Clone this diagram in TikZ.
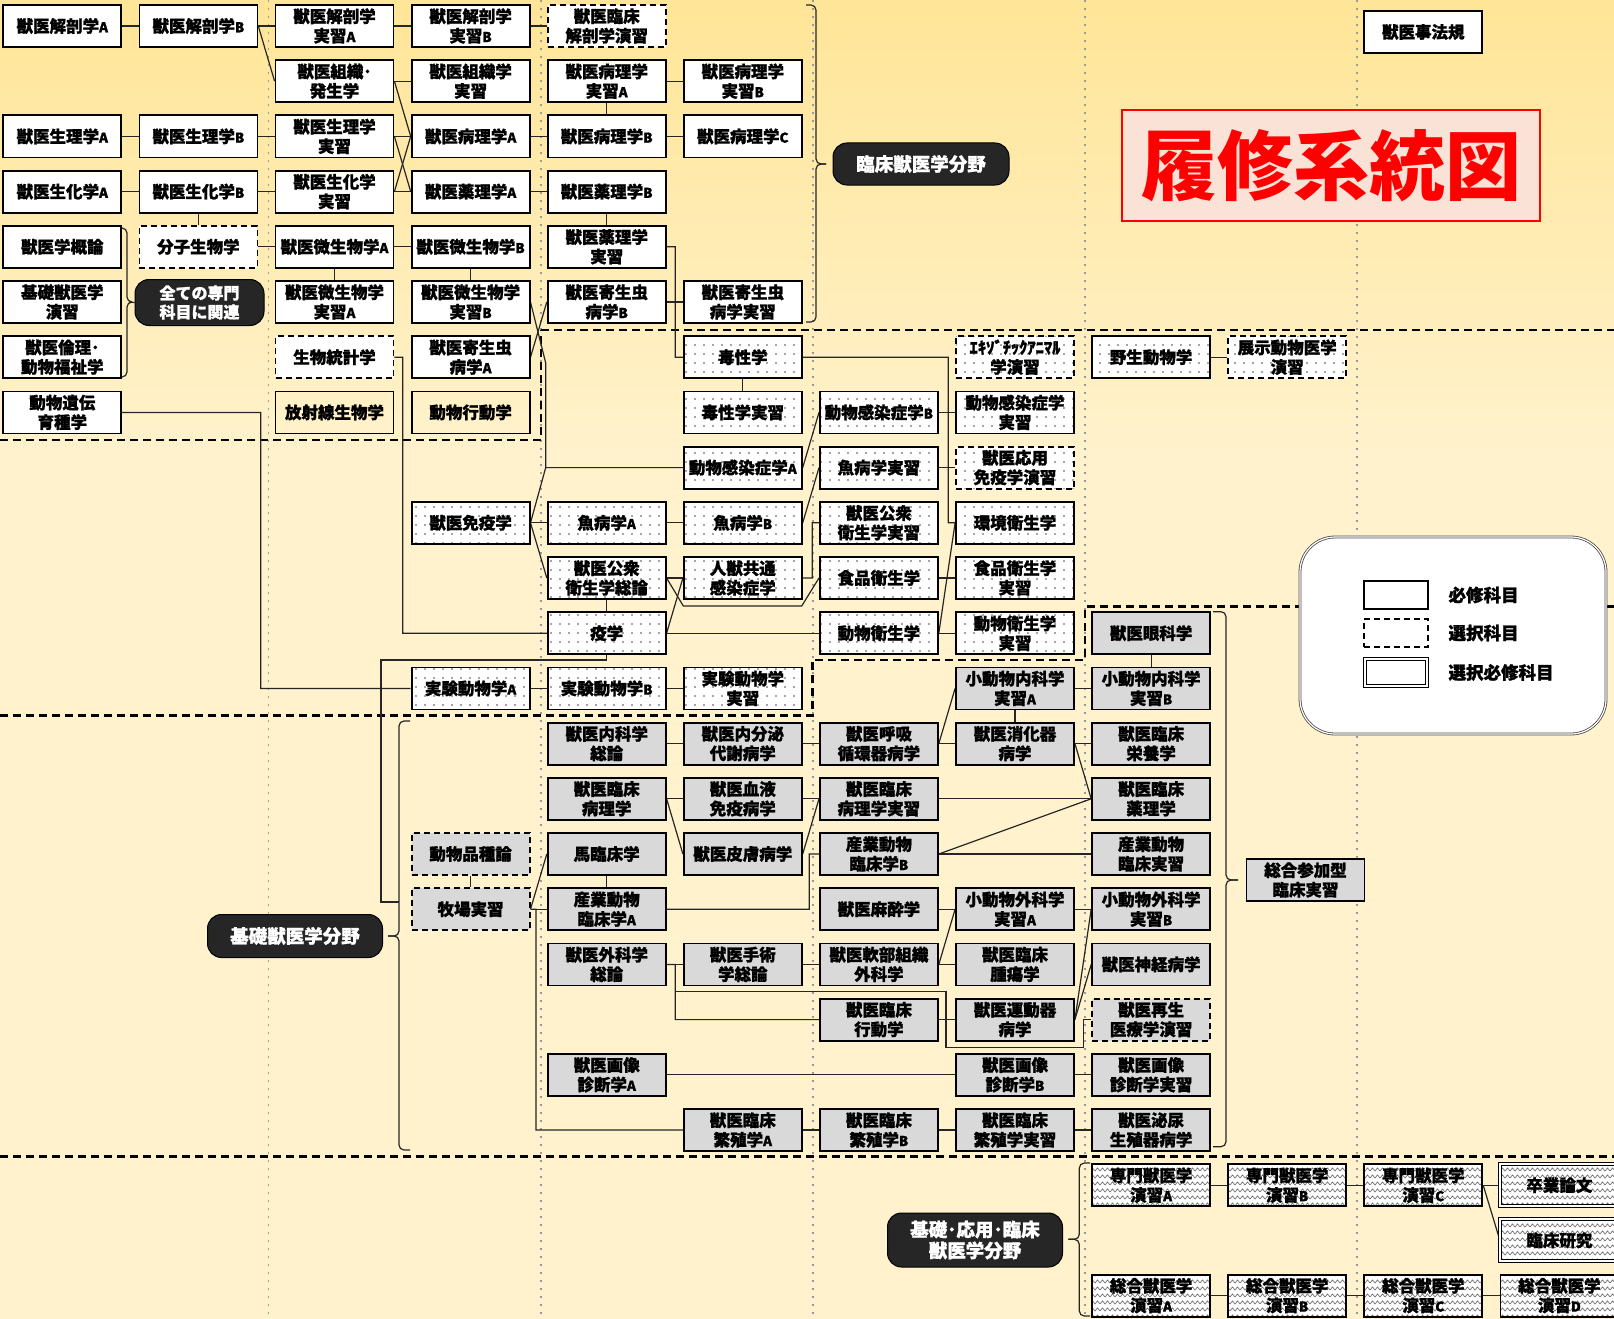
\documentclass[tikz,border=0pt]{standalone}
\usepackage{fontspec}
\setmainfont{Noto Sans CJK JP}[BoldFeatures={FakeBold=1.2}]
\newfontfamily\titlefont{Noto Sans CJK JP}
\usetikzlibrary{patterns}
\definecolor{bgtop}{RGB}{255,229,151}
\definecolor{bgbot}{RGB}{255,242,204}
\definecolor{pillc}{RGB}{38,38,38}
\definecolor{grayfill}{RGB}{217,217,217}
\definecolor{titlefill}{RGB}{250,227,214}
\definecolor{titlered}{RGB}{255,0,0}
\pgfdeclarepatternformonly{mydots}{\pgfqpoint{-1pt}{-1pt}}{\pgfqpoint{10pt}{10pt}}{\pgfqpoint{9pt}{9pt}}{\pgfpathcircle{\pgfqpoint{2pt}{2pt}}{0.95pt}\pgfusepath{fill}}
\pgfdeclarepatternformonly{myzig}{\pgfqpoint{-1pt}{-1pt}}{\pgfqpoint{11pt}{8pt}}{\pgfqpoint{10pt}{7pt}}{\pgfsetlinewidth{0.7pt}\pgfpathmoveto{\pgfqpoint{0pt}{1pt}}\pgfpathlineto{\pgfqpoint{2.5pt}{4pt}}\pgfpathlineto{\pgfqpoint{5pt}{1pt}}\pgfpathlineto{\pgfqpoint{7.5pt}{4pt}}\pgfpathlineto{\pgfqpoint{10pt}{1pt}}\pgfusepath{stroke}}
\pgfdeclarelayer{bg}
\pgfdeclarelayer{conn}
\pgfsetlayers{bg,conn,main}
\newcommand\sfx[1]{{\fontsize{13.5}{13.5}\selectfont #1}}
\tikzset{
  g/.style 2 args={at={({62.3+136.1*(#1-1)},{26+55.2*(#2-1)})}},
  base/.style={rectangle, minimum width=118pt, minimum height=42pt, inner sep=0pt, align=center,
    font=\bfseries\fontsize{16.5}{19.5}\selectfont, line width=1.8pt, draw=black},
  wb/.style={base, fill=white},
  tb/.style={base},
  db/.style={base, fill=white, dash pattern=on 6pt off 4pt},
  pb/.style={base, preaction={fill=white}, pattern=mydots, pattern color=black!70},
  pdb/.style={pb, dash pattern=on 6pt off 4pt},
  gb/.style={base, fill=grayfill},
  gdb/.style={gb, dash pattern=on 6pt off 4pt},
  zb/.style={base, preaction={fill=white}, pattern=myzig, pattern color=black!55},
  zdb/.style={zb, line width=1pt, double=white, double distance=2pt},
  pill/.style={rectangle, rounded corners=14pt, fill=pillc, draw=black, line width=1pt, text=white,
    align=center, inner sep=0pt, font=\bfseries\fontsize{18.5}{21}\selectfont},
  cn/.style={line width=1.2pt, draw=black!85},
  brk/.style={line width=1.2pt, draw=black!85, rounded corners=5pt},
  regl/.style={line width=2.6pt, draw=black, dash pattern=on 8pt off 5pt},
  dotl/.style={line width=1.6pt, draw=black!40, dash pattern=on 1.6pt off 6.4pt},
  legt/.style={anchor=west, font=\bfseries\fontsize{17.5}{17.5}\selectfont},
}
\begin{document}
\begin{tikzpicture}[x=1pt,y=-1pt]
\useasboundingbox (0,0) rectangle (1614,1319);
\begin{pgfonlayer}{bg}
  \fill[top color=bgtop,bottom color=bgbot] (0,0) rectangle (1614,450);
  \fill[bgbot] (0,449) rectangle (1614,1319);
  \foreach \x in {268.3,540.7,812.7,1085,1357} \draw[dotl] (\x,0) -- (\x,1319);
  \draw[regl] (541,330) -- (1614,330);
  \draw[regl] (0,440) -- (541,440) -- (541,330);
  \draw[regl] (0,715.7) -- (812.3,715.7) -- (812.3,660) -- (1085,660) -- (1085,606.7) -- (1614,606.7);
  \draw[regl] (0,1156.7) -- (1614,1156.7);
\end{pgfonlayer}

% title
\node[draw=titlered, line width=1.5pt, fill=titlefill, minimum width=418pt, minimum height=111pt, inner sep=0pt,
  text=titlered, font=\titlefont\bfseries\fontsize{76}{76}\selectfont] (title) at (1331,165.5) {履修系統図};

% row 1
\node[wb,g={1}{1}] (kaiA) {獣医解剖学\sfx{A}};
\node[wb,g={2}{1}] (kaiB) {獣医解剖学\sfx{B}};
\node[wb,g={3}{1}] (kaijA) {獣医解剖学\\実習\sfx{A}};
\node[wb,g={4}{1}] (kaijB) {獣医解剖学\\実習\sfx{B}};
\node[db,g={5}{1}] (rkai) {獣医臨床\\解剖学演習};
\node[wb,at={(1423.3,32)}] (hoki) {獣医事法規};
% row 2
\node[wb,g={3}{2}] (soshiki) {獣医組織･\\発生学};
\node[wb,g={4}{2}] (soshikij) {獣医組織学\\実習};
\node[wb,g={5}{2}] (byojA) {獣医病理学\\実習\sfx{A}};
\node[wb,g={6}{2}] (byojB) {獣医病理学\\実習\sfx{B}};
% row 3
\node[wb,g={1}{3}] (seiA) {獣医生理学\sfx{A}};
\node[wb,g={2}{3}] (seiB) {獣医生理学\sfx{B}};
\node[wb,g={3}{3}] (seij) {獣医生理学\\実習};
\node[wb,g={4}{3}] (byoA) {獣医病理学\sfx{A}};
\node[wb,g={5}{3}] (byoB) {獣医病理学\sfx{B}};
\node[wb,g={6}{3}] (byoC) {獣医病理学\sfx{C}};
% row 4
\node[wb,g={1}{4}] (kaA) {獣医生化学\sfx{A}};
\node[wb,g={2}{4}] (kaB) {獣医生化学\sfx{B}};
\node[wb,g={3}{4}] (kaj) {獣医生化学\\実習};
\node[wb,g={4}{4}] (yakuA) {獣医薬理学\sfx{A}};
\node[wb,g={5}{4}] (yakuB) {獣医薬理学\sfx{B}};
% row 5
\node[wb,g={1}{5}] (gairon) {獣医学概論};
\node[db,g={2}{5}] (bunshi) {分子生物学};
\node[wb,g={3}{5}] (biA) {獣医微生物学\sfx{A}};
\node[wb,g={4}{5}] (biB) {獣医微生物学\sfx{B}};
\node[wb,g={5}{5}] (yakuj) {獣医薬理学\\実習};
% row 6
\node[wb,g={1}{6}] (kiso) {基礎獣医学\\演習};
\node[pill, minimum width=129pt, minimum height=46pt, font=\bfseries\fontsize{16}{19}\selectfont] (zen) at (199.5,302.5) {全ての専門\\科目に関連};
\node[wb,g={3}{6}] (bijA) {獣医微生物学\\実習\sfx{A}};
\node[wb,g={4}{6}] (bijB) {獣医微生物学\\実習\sfx{B}};
\node[wb,g={5}{6}] (kiseiB) {獣医寄生虫\\病学\sfx{B}};
\node[wb,g={6}{6}] (kiseij) {獣医寄生虫\\病学実習};
% row 7
\node[wb,g={1}{7}] (rinri) {獣医倫理･\\動物福祉学};
\node[db,g={3}{7}] (tokei) {生物統計学};
\node[wb,g={4}{7}] (kiseiA) {獣医寄生虫\\病学\sfx{A}};
\node[pb,g={6}{7}] (doku) {毒性学};
\node[pdb,g={8}{7}] (exo) {ｴｷｿﾞﾁｯｸｱﾆﾏﾙ\\学演習};
\node[pb,g={9}{7}] (yasei) {野生動物学};
\node[pdb,g={10}{7}] (tenji) {展示動物医学\\演習};
% row 8
\node[wb,g={1}{8}] (iden) {動物遺伝\\育種学};
\node[tb,g={3}{8}] (hosha) {放射線生物学};
\node[tb,g={4}{8}] (kodo) {動物行動学};
\node[pb,g={6}{8}] (dokuj) {毒性学実習};
\node[pb,g={7}{8}] (kanB) {動物感染症学\sfx{B}};
\node[pb,g={8}{8}] (kanj) {動物感染症学\\実習};
% row 9
\node[pb,g={6}{9}] (kanA) {動物感染症学\sfx{A}};
\node[pb,g={7}{9}] (gyoj) {魚病学実習};
\node[pdb,g={8}{9}] (oyo) {獣医応用\\免疫学演習};
% row 10
\node[pb,g={4}{10}] (men) {獣医免疫学};
\node[pb,g={5}{10}] (gyoA) {魚病学\sfx{A}};
\node[pb,g={6}{10}] (gyoB) {魚病学\sfx{B}};
\node[pb,g={7}{10}] (koshuj) {獣医公衆\\衛生学実習};
\node[pb,g={8}{10}] (kankyo) {環境衛生学};
% row 11
\node[pb,g={5}{11}] (koshu) {獣医公衆\\衛生学総論};
\node[pb,g={6}{11}] (jinju) {人獣共通\\感染症学};
\node[pb,g={7}{11}] (shoku) {食品衛生学};
\node[pb,g={8}{11}] (shokuj) {食品衛生学\\実習};
% row 12
\node[pb,g={5}{12}] (eki) {疫学};
\node[pb,g={7}{12}] (dobutsu) {動物衛生学};
\node[pb,g={8}{12}] (dobutsuj) {動物衛生学\\実習};
\node[gb,g={9}{12}] (ganka) {獣医眼科学};
% row 13
\node[pb,g={4}{13}] (jikA) {実験動物学\sfx{A}};
\node[pb,g={5}{13}] (jikB) {実験動物学\sfx{B}};
\node[pb,g={6}{13}] (jikj) {実験動物学\\実習};
\node[gb,g={8}{13}] (shonaiA) {小動物内科学\\実習\sfx{A}};
\node[gb,g={9}{13}] (shonaiB) {小動物内科学\\実習\sfx{B}};
% row 14
\node[gb,g={5}{14}] (naika) {獣医内科学\\総論};
\node[gb,g={6}{14}] (naibun) {獣医内分泌\\代謝病学};
\node[gb,g={7}{14}] (kokyu) {獣医呼吸\\循環器病学};
\node[gb,g={8}{14}] (shoka) {獣医消化器\\病学};
\node[gb,g={9}{14}] (eiyo) {獣医臨床\\栄養学};
% row 15
\node[gb,g={5}{15}] (rbyo) {獣医臨床\\病理学};
\node[gb,g={6}{15}] (ketsu) {獣医血液\\免疫病学};
\node[gb,g={7}{15}] (rbyoj) {獣医臨床\\病理学実習};
\node[gb,g={9}{15}] (ryaku) {獣医臨床\\薬理学};
% row 16
\node[gdb,g={4}{16}] (hinshu) {動物品種論};
\node[gb,g={5}{16}] (uma) {馬臨床学};
\node[gb,g={6}{16}] (hifu) {獣医皮膚病学};
\node[gb,g={7}{16}] (sanB) {産業動物\\臨床学\sfx{B}};
\node[gb,g={9}{16}] (sanj) {産業動物\\臨床実習};
% row 17
\node[gdb,g={4}{17}] (bokujo) {牧場実習};
\node[gb,g={5}{17}] (sanA) {産業動物\\臨床学\sfx{A}};
\node[gb,g={7}{17}] (masui) {獣医麻酔学};
\node[gb,g={8}{17}] (shogeA) {小動物外科学\\実習\sfx{A}};
\node[gb,g={9}{17}] (shogeB) {小動物外科学\\実習\sfx{B}};
% row 18
\node[gb,g={5}{18}] (geka) {獣医外科学\\総論};
\node[gb,g={6}{18}] (shujutsu) {獣医手術\\学総論};
\node[gb,g={7}{18}] (nanbu) {獣医軟部組織\\外科学};
\node[gb,g={8}{18}] (shuyo) {獣医臨床\\腫瘍学};
\node[gb,g={9}{18}] (shinkei) {獣医神経病学};
% row 19
\node[gb,g={7}{19}] (rkodo) {獣医臨床\\行動学};
\node[gb,g={8}{19}] (undo) {獣医運動器\\病学};
\node[gdb,g={9}{19}] (saisei) {獣医再生\\医療学演習};
% row 20
\node[gb,g={5}{20}] (gazoA) {獣医画像\\診断学\sfx{A}};
\node[gb,g={8}{20}] (gazoB) {獣医画像\\診断学\sfx{B}};
\node[gb,g={9}{20}] (gazoj) {獣医画像\\診断学実習};
% row 21
\node[gb,g={6}{21}] (hanA) {獣医臨床\\繁殖学\sfx{A}};
\node[gb,g={7}{21}] (hanB) {獣医臨床\\繁殖学\sfx{B}};
\node[gb,g={8}{21}] (hanj) {獣医臨床\\繁殖学実習};
\node[gb,g={9}{21}] (hinyo) {獣医泌尿\\生殖器病学};
\node[gb,at={(1305.5,880)}] (sogo) {総合参加型\\臨床実習};
% rows 22-24
\node[zb,g={9}{22}] (senA) {専門獣医学\\演習\sfx{A}};
\node[zb,g={10}{22}] (senB) {専門獣医学\\演習\sfx{B}};
\node[zb,g={11}{22}] (senC) {専門獣医学\\演習\sfx{C}};
\node[zdb,g={12}{22}] (sotsu) {卒業論文};
\node[zdb,g={12}{23}] (rinken) {臨床研究};
\node[zb,g={9}{24}] (sogoA) {総合獣医学\\演習\sfx{A}};
\node[zb,g={10}{24}] (sogoB) {総合獣医学\\演習\sfx{B}};
\node[zb,g={11}{24}] (sogoC) {総合獣医学\\演習\sfx{C}};
\node[zb,g={12}{24}] (sogoD) {総合獣医学\\演習\sfx{D}};

% pills
\node[pill, minimum width=176pt, minimum height=42pt] (rinshop) at (921,164) {臨床獣医学分野};
\node[pill, minimum width=175pt, minimum height=43pt] (kisop) at (295,936) {基礎獣医学分野};
\node[pill, minimum width=175pt, minimum height=54pt] (allp) at (975,1240) {基礎･応用･臨床\\獣医学分野};

\begin{pgfonlayer}{conn}
% top area
\draw[cn] (kaiA) -- (kaiB);
\draw[cn] (kaiB) -- (kaijA);
\draw[cn] (kaiB.east) -- (soshiki.west);
\draw[cn] (kaijA) -- (kaijB);
\draw[cn] (kaijB) -- (rkai);
\draw[cn] (soshiki) -- (soshikij);
\draw[cn] (soshiki.east) -- (byoA.west);
\draw[cn] (seiA) -- (seiB);
\draw[cn] (seiB) -- (seij);
\draw[cn] (seij) -- (byoA);
\draw[cn] (seij.east) -- (yakuA.west);
\draw[cn] (kaA) -- (kaB);
\draw[cn] (kaB) -- (kaj);
\draw[cn] (kaj) -- (yakuA);
\draw[cn] (kaj.east) -- (byoA.west);
\draw[cn] (kaB) -- (bunshi);
\draw[cn] (bunshi) -- (biA);
\draw[cn] (biA) -- (biB);
\draw[cn] (biA) -- (bijA);
\draw[cn] (byoA) -- (byoB);
\draw[cn] (byoB) -- (byoC);
\draw[cn] (byojA) -- (byojB);
\draw[cn] (byojA) -- (byoB);
\draw[cn] (yakuA) -- (yakuB);
\draw[cn] (yakuB) -- (yakuj);
\draw[cn] (biB) -- (bijB);
\draw[cn] (kiseiB) -- (kiseij);
\draw[cn] (kiseiA.east) -- (kiseiB.west);
\draw[cn] (yakuj.east) -- (675.3,246.8) |- (doku.west);
\draw[cn] (doku) -- (dokuj);
\draw[cn] (doku.east) -- (948.3,357.2) |- (kankyo.west);
\draw[cn] (kanB) -- (kanj);
\draw[cn] (kanA.east) -- (kanB.west);
\draw[cn] (gyoB.east) -- (gyoj.west);
\draw[cn] (gyoj) -- (oyo);
\draw[cn] (men) -- (gyoA);
\draw[cn] (gyoA) -- (gyoB);
\draw[cn] (men.east) -- (545.7,467.6) -- (kanA.west);
\draw[cn] (bijB.east) -- (545.7,363) -- (545.7,467.6);
\draw[cn] (men.east) -- (koshu.west);
\draw[cn] (koshu) -- (jinju);
\draw[cn] (koshu) -- (eki);
\draw[cn] (koshu.east) -- (683.3,606) -- (801.7,606) -- (shoku.west);
\draw[cn] (jinju.east) -- (812.3,578) |- (koshuj.west);
\draw[cn] (eki.east) -- (jinju.west);
\draw[cn] (eki) -- (dobutsu);
\draw[cn] (shoku) -- (shokuj);
\draw[cn] (dobutsu) -- (dobutsuj);
\draw[cn] (dobutsu.east) -- (kankyo.west);
\draw[cn] (yasei) -- (tenji);
\draw[cn] (tokei.east) -- (402.7,357.2) |- (eki.west);
\draw[cn] (iden.east) -- (260.7,412.4) |- (jikA.west);
\draw[cn] (eki.south) |- (381,660) -- (381,902) -- (399,902);
\draw[cn] (jikA) -- (jikB);
\draw[cn] (jikB) -- (jikj);
% clinical area
\draw[cn] (ganka) -- (shonaiB);
\draw[cn] (shonaiA) -- (shonaiB);
\draw[cn] (shonaiA) -- (shoka);
\draw[cn] (naika) -- (naibun);
\draw[cn] (naibun) -- (kokyu);
\draw[cn] (kokyu) -- (shoka);
\draw[cn] (kokyu.east) -- (shonaiA.west);
\draw[cn] (shoka) -- (eiyo);
\draw[cn] (shoka.east) -- (ryaku.west);
\draw[cn] (rbyo) -- (ketsu);
\draw[cn] (ketsu) -- (rbyoj);
\draw[cn] (rbyoj) -- (ryaku);
\draw[cn] (rbyo.east) -- (hifu.west);
\draw[cn] (hifu.east) -- (rbyoj.west);
\draw[cn] (sanB) -- (sanj);
\draw[cn] (sanB.east) -- (ryaku.west);
\draw[cn] (hinshu) -- (bokujo);
\draw[cn] (bokujo) -- (sanA);
\draw[cn] (bokujo.east) -- (uma.west);
\draw[cn] (uma) -- (sanA);
\draw[cn] (bokujo.east) -- (536,909.2) |- (hanA.west);
\draw[cn] (sanA.east) -- (809.3,909.2) |- (sanB.west);
\draw[cn] (masui) -- (shogeA);
\draw[cn] (shogeA) -- (shogeB);
\draw[cn] (nanbu.east) -- (shogeA.west);
\draw[cn] (nanbu) -- (shuyo);
\draw[cn] (geka) -- (shujutsu);
\draw[cn] (shujutsu) -- (nanbu);
\draw[cn] (geka.east) -- (675.3,964.4) |- (rkodo.west);
\draw[cn] (675.3,991.7) -- (946,991.7) -- (946,1047.7) -- (1083.3,1047.7) |- (saisei.west);
\draw[cn] (rkodo) -- (undo);
\draw[cn] (undo.east) -- (shogeB.west);
\draw[cn] (undo.east) -- (shinkei.west);
\draw[cn] (gazoA) -- (gazoB);
\draw[cn] (gazoB) -- (gazoj);
\draw[cn] (hanA) -- (hanB);
\draw[cn] (hanB) -- (hanj);
\draw[cn] (hanj) -- (hinyo);
% bottom
\draw[cn] (senA) -- (senB);
\draw[cn] (senB) -- (senC);
\draw[cn] (senC) -- (sotsu);
\draw[cn] (senC.east) -- (rinken.west);
\draw[cn] (sogoA) -- (sogoB);
\draw[cn] (sogoB) -- (sogoC);
\draw[cn] (sogoC) -- (sogoD);
% braces
\draw[brk] (806,5) -- (816,5) -- (816,164) -- (826,164);
\draw[brk] (826,164) -- (816,164) -- (816,322) -- (806,322);
\draw[brk] (121.7,228) -- (127,228) -- (127,302) -- (132,302);
\draw[brk] (132,302) -- (127,302) -- (127,377) -- (121.7,377);
\draw[cn] (129,302) -- (zen.west);
\draw[brk] (410,721) -- (399,721) -- (399,936) -- (388,936);
\draw[brk] (388,936) -- (399,936) -- (399,1150) -- (410,1150);
\draw[brk] (1090,1163) -- (1079.3,1163) -- (1079.3,1239.3) -- (1068.3,1239.3);
\draw[brk] (1068.3,1239.3) -- (1079.3,1239.3) -- (1079.3,1316) -- (1090,1316);
\draw[brk] (1213,611.7) -- (1226,611.7) -- (1226,880) -- (1238,880);
\draw[brk] (1238,880) -- (1226,880) -- (1226,1146.7) -- (1213,1146.7);
\end{pgfonlayer}

% legend
\node[draw=black!70, line width=0.8pt, double=white, double distance=1.2pt, fill=white, rounded corners=35pt,
  minimum width=306pt, minimum height=197pt, inner sep=0pt] (legend) at (1453,635.5) {};
\node[draw, line width=1.8pt, fill=white, minimum width=64pt, minimum height=28pt, inner sep=0pt] (lg1) at (1396,595) {};
\node[draw, line width=1.8pt, fill=white, dash pattern=on 6pt off 4pt, minimum width=64pt, minimum height=28pt, inner sep=0pt] (lg2) at (1396,633) {};
\node[draw, line width=1pt, double=white, double distance=2pt, fill=white, minimum width=62pt, minimum height=27pt, inner sep=0pt] (lg3) at (1396,672.5) {};
\node[legt] (lt1) at (1445,595) {必修科目};
\node[legt] (lt2) at (1445,633) {選択科目};
\node[legt] (lt3) at (1445,672.5) {選択必修科目};
\end{tikzpicture}
\end{document}
